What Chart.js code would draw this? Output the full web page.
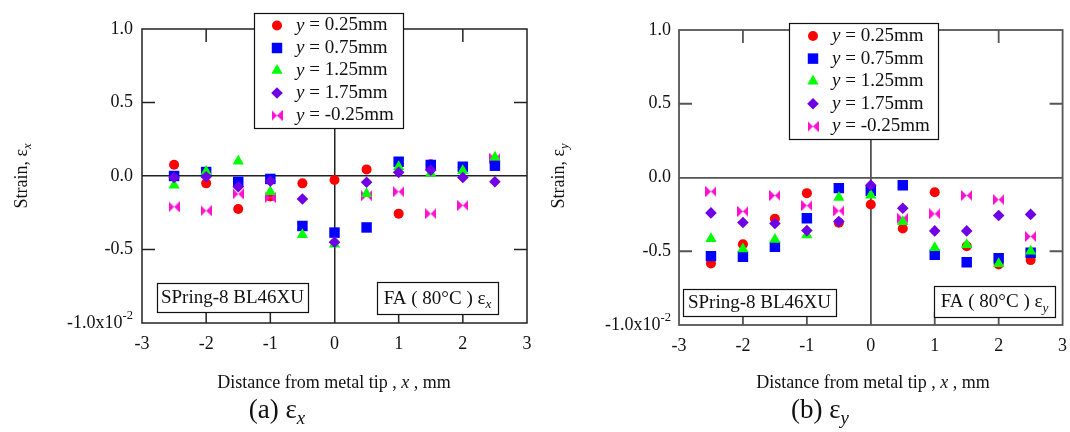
<!DOCTYPE html>
<html>
<head>
<meta charset="utf-8">
<script src="https://cdn.jsdelivr.net/npm/chart.js@4.4.0/dist/chart.umd.min.js"></script>
<style>
  body { margin: 0; background: #fff; }
  #wrap { position: relative; width: 1070px; height: 432px; }
  canvas { position: absolute; top: 0; }
</style>
</head>
<body>
<div id="wrap">
  <canvas id="chartA" width="535" height="432" style="left:0"></canvas>
  <canvas id="chartB" width="535" height="432" style="left:535px"></canvas>
</div>
<script>
// x positions (mm from metal tip)
const xs = [-2.5, -2, -1.5, -1, -0.5, 0, 0.5, 1, 1.5, 2, 2.5];

// strain eps_x (x10^-2)
const ex025 = [0.077, -0.05, -0.224, -0.14, -0.05, -0.027, 0.045, -0.256, 0.08, 0.06, 0.10];
const ex075 = [0.0, 0.027, -0.04, -0.02, -0.34, -0.385, -0.35, 0.097, 0.075, 0.063, 0.07];
const ex125 = [-0.063, 0.03, 0.10, -0.107, -0.40, -0.465, -0.12, 0.063, 0.018, 0.036, 0.127];
const ex175 = [-0.01, -0.005, -0.073, -0.036, -0.156, -0.45, -0.043, 0.025, 0.04, -0.01, -0.039];
const exm025 = [-0.21, -0.236, -0.122, -0.147, null, null, -0.134, -0.107, -0.256, -0.20, 0.12];

// strain eps_y (x10^-2)
const ey025 = [-0.583, -0.452, -0.28, -0.106, -0.307, -0.183, -0.346, -0.10, -0.466, -0.59, -0.56];
const ey075 = [-0.533, -0.538, -0.47, -0.276, -0.072, -0.09, -0.052, -0.524, -0.574, -0.547, -0.51];
const ey125 = [-0.416, -0.484, -0.42, -0.389, -0.136, -0.12, -0.30, -0.477, -0.456, -0.585, -0.50];
const ey175 = [-0.24, -0.305, -0.312, -0.36, -0.298, -0.052, -0.208, -0.362, -0.362, -0.258, -0.25];
const eym025 = [-0.095, -0.23, -0.122, -0.19, -0.226, null, -0.276, -0.246, -0.122, -0.15, -0.40];

const seriesLabels = ["0.25mm", "0.75mm", "1.25mm", "1.75mm", "-0.25mm"];
const xTickVals = [-3, -2, -1, 0, 1, 2, 3];
const yTickVals = [1, 0.5, 0, -0.5, -1];

const SERIF = "'Liberation Serif', 'DejaVu Serif', serif";

// bowtie marker for y = -0.25mm
const bowtie = document.createElement("canvas");
bowtie.width = 11; bowtie.height = 11;
(function () {
  const c = bowtie.getContext("2d");
  c.fillStyle = "#ff10d0";
  c.beginPath();
  c.moveTo(0, 0); c.lineTo(5.5, 5.5); c.lineTo(0, 11); c.closePath();
  c.moveTo(11, 0); c.lineTo(5.5, 5.5); c.lineTo(11, 11); c.closePath();
  c.fill();
})();

const styles = [
  { color: "#ff0000", pointStyle: "circle", radius: 5, order: 4 },
  { color: "#0000ff", pointStyle: "rect", radius: 7.4, order: 2 },
  { color: "#00ff00", pointStyle: "triangle", radius: 6.5, order: 1 },
  { color: "#6f00e6", pointStyle: "rectRot", radius: 5.8, order: 0 },
  { color: "#ff10d0", pointStyle: bowtie, radius: 5.5, order: 3 },
];

function pts(vals) {
  return xs.map((x, i) => ({ x: x, y: vals[i] })).filter(p => p.y !== null);
}

// draw text made of parts: {t, it, sub, sup}
function drawRich(ctx, parts, x, y, size, align) {
  const fontOf = p => (p.it ? "italic " : "") + (p.sub || p.sup ? size * 0.7 : size) + "px " + SERIF;
  let w = 0;
  parts.forEach(p => { ctx.font = fontOf(p); w += ctx.measureText(p.t).width; });
  let cx = align === "center" ? x - w / 2 : align === "right" ? x - w : x;
  ctx.textAlign = "left";
  ctx.textBaseline = "middle";
  parts.forEach(p => {
    ctx.font = fontOf(p);
    const dy = p.sub ? size * 0.3 : p.sup ? -size * 0.42 : 0;
    ctx.fillText(p.t, cx, y + dy);
    cx += ctx.measureText(p.t).width;
  });
}

const framePlugin = {
  id: "frame",
  beforeDatasetsDraw(chart, args, o) {
    const { ctx, chartArea: a, scales: { x, y } } = chart;
    ctx.save();
    ctx.strokeStyle = o.line;
    ctx.lineWidth = o.lw;
    ctx.strokeRect(a.left, a.top, a.right - a.left, a.bottom - a.top);
    ctx.beginPath();
    xTickVals.forEach(v => {
      if (v === 0 || v === -3 || v === 3) return;
      const px = x.getPixelForValue(v);
      ctx.moveTo(px, a.top); ctx.lineTo(px, a.top + 13);
      ctx.moveTo(px, a.bottom); ctx.lineTo(px, a.bottom - 13);
    });
    [0.5, -0.5].forEach(v => {
      const py = y.getPixelForValue(v);
      ctx.moveTo(a.left, py); ctx.lineTo(a.left + 13, py);
      ctx.moveTo(a.right, py); ctx.lineTo(a.right - 13, py);
    });
    ctx.stroke();
    // y tick labels
    ctx.fillStyle = "#111";
    yTickVals.forEach(v => {
      const py = y.getPixelForValue(v);
      if (v === -1) {
        drawRich(ctx, [{ t: "-1.0x10" }, { t: "-2", sup: true }], a.left - o.ylabGap, py, 18, "right");
      } else {
        drawRich(ctx, [{ t: v.toFixed(1) }], a.left - o.ylabGap, py, 18, "right");
      }
    });
    ctx.restore();
  },
  afterDraw(chart, args, o) {
    const { ctx } = chart;
    ctx.save();
    // legend
    const L = o.legend;
    ctx.fillStyle = "#fff";
    ctx.fillRect(L.x, L.y, L.w, L.h);
    ctx.strokeStyle = "#111";
    ctx.lineWidth = 1.2;
    ctx.strokeRect(L.x + 0.5, L.y + 0.5, L.w, L.h);
    styles.forEach((s, i) => {
      const ry = L.row0 + i * L.step;
      ctx.fillStyle = s.color;
      Chart.helpers.drawPoint(ctx, { pointStyle: s.pointStyle, radius: s.radius, rotation: 0, borderWidth: 0 }, L.mx, ry);
      ctx.fillStyle = "#111";
      drawRich(ctx, [{ t: "y", it: true }, { t: " = " + seriesLabels[i] }], L.tx, ry, 19, "left");
    });
    // annotation boxes
    o.boxes.forEach(b => {
      ctx.fillStyle = "#fff";
      ctx.fillRect(b.x, b.y, b.w, b.h);
      ctx.strokeStyle = "#111";
      ctx.strokeRect(b.x + 0.5, b.y + 0.5, b.w, b.h);
      ctx.fillStyle = "#111";
      drawRich(ctx, b.parts, b.x + b.w / 2, b.y + b.h / 2 + 1, 19, "center");
    });
    // axis titles and caption
    ctx.fillStyle = "#111";
    drawRich(ctx, [{ t: "Distance from metal tip , " }, { t: "x", it: true }, { t: " , mm" }], o.xTitle.x, o.xTitle.y, 18, "center");
    ctx.save();
    ctx.translate(o.yTitle.x, o.yTitle.y);
    ctx.rotate(-Math.PI / 2);
    drawRich(ctx, [{ t: "Strain, ε" }, { t: o.comp, it: true, sub: true }], 0, 0, 18, "center");
    ctx.restore();
    drawRich(ctx, [{ t: o.capLetter + " ε" }, { t: o.comp, it: true, sub: true }], o.cap.x, o.cap.y, 27, "center");
    ctx.restore();
  }
};

function makeChart(id, series, p) {
  return new Chart(document.getElementById(id), {
    type: "scatter",
    data: {
      datasets: series.map((vals, i) => ({
        label: "y = " + seriesLabels[i],
        data: pts(vals),
        pointStyle: styles[i].pointStyle,
        pointRadius: styles[i].radius,
        backgroundColor: styles[i].color,
        borderColor: styles[i].color,
        pointBorderWidth: 0,
        order: styles[i].order,
      })),
    },
    options: {
      responsive: false,
      animation: false,
      events: [],
      layout: { padding: { left: 0, right: p.padRight, top: p.padTop, bottom: p.padBottom } },
      plugins: {
        legend: { display: false },
        tooltip: { enabled: false },
        frame: p.frame,
      },
      scales: {
        x: {
          type: "linear", min: -3, max: 3,
          afterFit: s => { s.height = 30; s.paddingLeft = 0; s.paddingRight = 0; },
          afterBuildTicks: s => { s.ticks = xTickVals.map(v => ({ value: v })); },
          ticks: { padding: 10, color: "#111", font: { family: SERIF, size: 18 } },
          grid: { drawTicks: false, color: c => (c.tick && c.tick.value === 0 ? p.frame.line : "rgba(0,0,0,0)"), lineWidth: p.frame.lw },
          border: { display: false },
        },
        y: {
          type: "linear", min: -1, max: 1,
          afterFit: s => { s.width = p.yWidth; s.paddingTop = 0; s.paddingBottom = 0; },
          afterBuildTicks: s => { s.ticks = yTickVals.map(v => ({ value: v })); },
          ticks: { display: false },
          grid: { drawTicks: false, color: c => (c.tick && c.tick.value === 0 ? p.frame.line : "rgba(0,0,0,0)"), lineWidth: p.frame.lw },
          border: { display: false },
        },
      },
    },
    plugins: [framePlugin],
  });
}

makeChart("chartA", [ex025, ex075, ex125, ex175, exm025], {
  padRight: 8, padTop: 29, padBottom: 79, yWidth: 142,
  frame: {
    line: "#222", lw: 1.5, ylabGap: 9, comp: "x", capLetter: "(a)",
    legend: { x: 254, y: 13, w: 149, h: 115, row0: 25.5, step: 22.5, mx: 277, tx: 296 },
    boxes: [
      { x: 157, y: 283, w: 151, h: 29, parts: [{ t: "SPring-8 BL46XU" }] },
      { x: 377, y: 282, w: 121, h: 32, parts: [{ t: "FA ( 80°C ) ε" }, { t: "x", it: true, sub: true }] },
    ],
    xTitle: { x: 334, y: 383 },
    yTitle: { x: 22, y: 176 },
    cap: { x: 277, y: 411 },
  },
});

makeChart("chartB", [ey025, ey075, ey125, ey175, eym025], {
  padRight: 7, padTop: 30, padBottom: 77, yWidth: 144,
  frame: {
    line: "#555", lw: 1.8, ylabGap: 8, comp: "y", capLetter: "(b)",
    legend: { x: 254, y: 23, w: 149, h: 116, row0: 36, step: 22.6, mx: 278, tx: 297 },
    boxes: [
      { x: 148, y: 289, w: 153, h: 27, parts: [{ t: "SPring-8 BL46XU" }] },
      { x: 399, y: 286, w: 121, h: 31, parts: [{ t: "FA ( 80°C ) ε" }, { t: "y", it: true, sub: true }] },
    ],
    xTitle: { x: 338, y: 383 },
    yTitle: { x: 24, y: 176 },
    cap: { x: 285, y: 411 },
  },
});
</script>
</body>
</html>
